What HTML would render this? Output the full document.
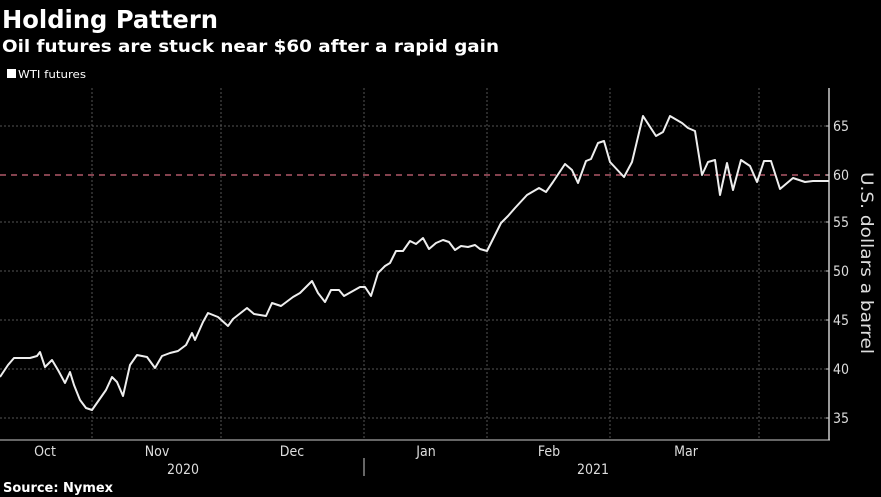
<!DOCTYPE html>
<html><head><style>
body{margin:0;background:#000;width:881px;height:497px;overflow:hidden;font-family:"DejaVu Sans","Liberation Sans",sans-serif;color:#fff}
</style></head><body>
<svg width="881" height="497" xmlns="http://www.w3.org/2000/svg" style="position:absolute;left:0;top:0">
<rect width="881" height="497" fill="#000"/>
<text x="2" y="28" font-family="DejaVu Sans,sans-serif" font-weight="bold" font-size="25" fill="#fff" textLength="216" lengthAdjust="spacingAndGlyphs">Holding Pattern</text>
<text x="2" y="52" font-family="DejaVu Sans,sans-serif" font-weight="bold" font-size="17" fill="#fff" textLength="497" lengthAdjust="spacingAndGlyphs">Oil futures are stuck near $60 after a rapid gain</text>
<rect x="7" y="69" width="9" height="9" fill="#fff"/>
<text x="18" y="78" font-family="DejaVu Sans Condensed,DejaVu Sans,sans-serif" font-size="11" fill="#fff" textLength="68" lengthAdjust="spacingAndGlyphs">WTI futures</text>
<g stroke="#555" stroke-width="1" stroke-dasharray="2,2">
<line x1="0" x2="829" y1="126" y2="126"/>
<line x1="0" x2="829" y1="222" y2="222"/>
<line x1="0" x2="829" y1="271" y2="271"/>
<line x1="0" x2="829" y1="320" y2="320"/>
<line x1="0" x2="829" y1="369" y2="369"/>
<line x1="0" x2="829" y1="418" y2="418"/>
<line x1="92" x2="92" y1="88" y2="440"/>
<line x1="221" x2="221" y1="88" y2="440"/>
<line x1="364" x2="364" y1="88" y2="440"/>
<line x1="487" x2="487" y1="88" y2="440"/>
<line x1="610" x2="610" y1="88" y2="440"/>
<line x1="759" x2="759" y1="88" y2="440"/>
</g>
<line x1="0" x2="829" y1="175" y2="175" stroke="#b05868" stroke-width="1.5" stroke-dasharray="6,5"/>
<line x1="0" x2="830" y1="440" y2="440" stroke="#ccc" stroke-width="1"/>
<line x1="829" x2="829" y1="88" y2="440" stroke="#ccc" stroke-width="1.5"/>
<g stroke="#ccc">
<line x1="826" x2="829" y1="126" y2="126"/><line x1="826" x2="829" y1="175" y2="175"/><line x1="826" x2="829" y1="222" y2="222"/><line x1="826" x2="829" y1="271" y2="271"/><line x1="826" x2="829" y1="320" y2="320"/><line x1="826" x2="829" y1="369" y2="369"/><line x1="826" x2="829" y1="418" y2="418"/>
<line x1="364" x2="364" y1="458" y2="476"/>
</g>
<g font-family="DejaVu Sans Condensed,DejaVu Sans,sans-serif" font-size="14" fill="#ddd">
<text x="833" y="131">65</text><text x="833" y="180">60</text><text x="833" y="227">55</text><text x="833" y="276">50</text><text x="833" y="325">45</text><text x="833" y="374">40</text><text x="833" y="423">35</text>
<text x="45" y="456" text-anchor="middle">Oct</text><text x="157" y="456" text-anchor="middle">Nov</text><text x="292" y="456" text-anchor="middle">Dec</text><text x="426" y="456" text-anchor="middle">Jan</text><text x="549" y="456" text-anchor="middle">Feb</text><text x="686" y="456" text-anchor="middle">Mar</text>
<text x="183" y="474" text-anchor="middle">2020</text><text x="593" y="474" text-anchor="middle">2021</text>
</g>
<text transform="translate(861,263) rotate(90)" text-anchor="middle" font-family="DejaVu Sans,sans-serif" font-size="17" fill="#ddd" textLength="182" lengthAdjust="spacingAndGlyphs">U.S. dollars a barrel</text>
<text x="3" y="492" font-family="DejaVu Sans Condensed,DejaVu Sans,sans-serif" font-weight="bold" font-size="13" fill="#fff" textLength="110" lengthAdjust="spacingAndGlyphs">Source: Nymex</text>
<polyline fill="none" stroke="#eee" stroke-width="2" stroke-linejoin="round" points="0,377 8,365 14,358 30,358 37,356 40,352 45,367 52,360 58,370 65,383 70,372 74,385 80,400 86,408 92,410 99,400 106,390 112,377 117,382 123,396 130,365 137,355 147,357 155,368 162,356 170,353 178,351 186,345 192,333 195,340 203,322 208,313 218,317 228,326 233,319 247,308 254,314 266,316 272,303 281,306 293,297 300,293 312,281 318,293 325,302 331,290 339,290 344,296 360,287 365,287 371,296 378,273 385,266 390,263 396,251 403,251 410,241 416,244 423,238 429,249 436,243 443,240 449,242 455,250 461,246 468,247 475,245 480,249 487,251 494,237 501,223 508,216 515,208 527,195 539,188 546,192 553,182 565,164 572,170 578,183 586,161 591,159 598,143 604,141 610,162 624,177 632,162 643,116 656,136 663,132 670,116 682,123 688,128 695,131 702,175 708,162 715,160 720,195 727,163 733,190 741,160 750,166 757,182 764,161 771,161 780,189 793,178 805,182 813,181 822,181 829,181"/>
</svg>
</body></html>
